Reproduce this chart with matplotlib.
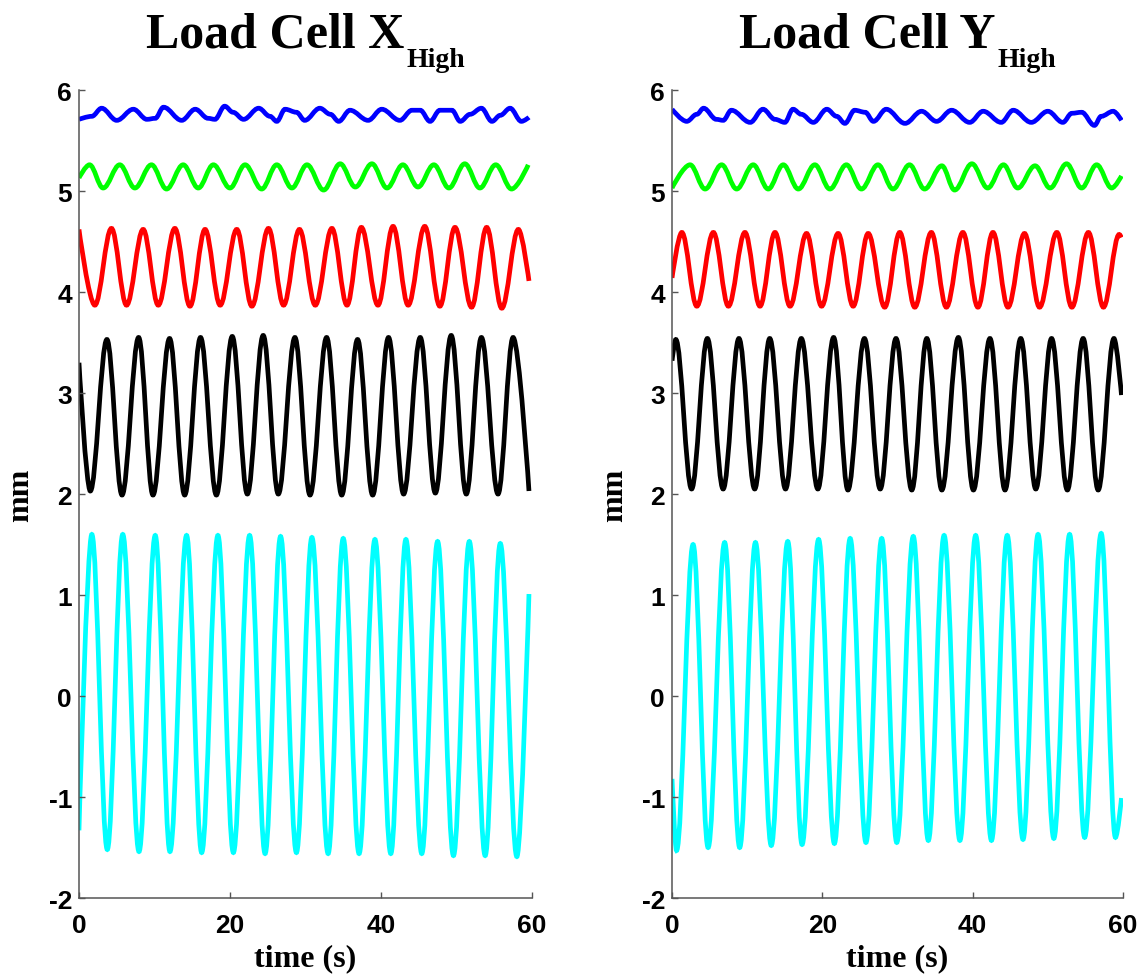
import numpy as np
import matplotlib
matplotlib.use("Agg")
import matplotlib.pyplot as plt
from matplotlib.path import Path
from matplotlib.patches import PathPatch

plt.rcParams["axes.unicode_minus"] = False

# extrema (time s, mm)
# ---- Load Cell X (left) ----
x_blue_t = [0.0, 1.7, 3.0, 5.0, 7.2, 9.0, 10.1, 11.2, 13.6, 15.4, 17.1, 18.0, 19.3, 20.4, 21.8, 23.8, 25.3, 26.2, 27.3, 28.8,
            29.9, 31.9, 33.3, 34.4, 35.9, 38.3, 40.1, 42.5, 44.1, 45.2, 46.5, 47.8, 49.4, 50.5, 51.8, 53.3, 54.7, 55.8, 57.1, 58.6, 59.6]
x_blue_v = [5.71, 5.74, 5.82, 5.70, 5.81, 5.71, 5.72, 5.83, 5.70, 5.81, 5.72, 5.71, 5.84, 5.78, 5.71, 5.82, 5.74, 5.69, 5.81, 5.78,
            5.70, 5.82, 5.76, 5.69, 5.80, 5.70, 5.81, 5.70, 5.80, 5.80, 5.69, 5.80, 5.80, 5.69, 5.76, 5.82, 5.69, 5.75, 5.82, 5.69, 5.73]

x_green_t = [0.0, 1.4, 3.2, 5.4, 7.4, 9.6, 11.6, 13.8, 15.8, 17.8, 20.0, 22.0, 24.2, 26.2, 28.2, 30.2,
             32.4, 34.6, 36.6, 38.8, 40.8, 42.9, 44.9, 47.0, 49.0, 51.1, 53.1, 55.2, 57.3, 59.5]
x_green_v = [5.13, 5.26, 5.03, 5.26, 5.03, 5.26, 5.02, 5.26, 5.03, 5.26, 5.03, 5.26, 5.02, 5.26, 5.03, 5.26,
             5.01, 5.27, 5.04, 5.27, 5.03, 5.26, 5.04, 5.26, 5.03, 5.27, 5.03, 5.26, 5.02, 5.26]

x_red_t = [0.0, 2.1, 4.3, 6.3, 8.5, 10.5, 12.7, 14.7, 16.7, 18.7, 20.9, 22.9, 25.1, 27.1, 29.2,
           31.3, 33.5, 35.5, 37.4, 39.6, 41.6, 43.6, 45.8, 47.8, 49.8, 52.0, 54.0, 56.0, 58.2, 59.6]
x_red_v = [4.62, 3.87, 4.63, 3.87, 4.62, 3.87, 4.63, 3.86, 4.62, 3.87, 4.62, 3.86, 4.63, 3.87, 4.62,
           3.87, 4.63, 3.87, 4.64, 3.87, 4.65, 3.87, 4.65, 3.86, 4.64, 3.85, 4.64, 3.84, 4.62, 4.11]

x_black_t = [0.0, 1.5, 3.7, 5.7, 7.9, 9.8, 12.0, 14.0, 16.1, 18.2, 20.3, 22.3, 24.4, 26.4, 28.6,
             30.6, 32.8, 34.8, 36.9, 38.9, 41.0, 43.0, 45.2, 47.2, 49.3, 51.3, 53.3, 55.5, 57.5, 59.6]
x_black_v = [3.30, 2.03, 3.53, 1.99, 3.55, 1.99, 3.54, 1.99, 3.55, 1.99, 3.56, 2.00, 3.57, 2.00, 3.55,
             1.99, 3.55, 1.99, 3.53, 1.99, 3.55, 2.00, 3.55, 2.01, 3.57, 2.00, 3.55, 2.00, 3.55, 2.03]

x_cyan_t = [0.0, 1.7, 3.75, 5.8, 7.95, 10.1, 12.05, 14.25, 16.25, 18.4, 20.45, 22.6, 24.65, 26.7, 28.8,
            30.85, 33.0, 35.0, 37.1, 39.2, 41.3, 43.3, 45.4, 47.5, 49.6, 51.7, 53.8, 55.8, 58.0, 59.6]
x_cyan_v = [-1.33, 1.60, -1.52, 1.60, -1.54, 1.59, -1.54, 1.59, -1.55, 1.59, -1.55, 1.59, -1.56, 1.58, -1.55,
            1.57, -1.56, 1.56, -1.56, 1.55, -1.56, 1.55, -1.56, 1.53, -1.58, 1.53, -1.58, 1.51, -1.59, 1.01]

# ---- Load Cell Y (right) ----
y_blue_t = [0.0, 1.95, 3.3, 4.2, 5.9, 6.8, 7.9, 10.4, 12.1, 13.7, 15.0, 16.1, 17.2, 18.8, 20.6, 21.9, 23.0, 24.3, 25.7, 26.8,
            28.5, 31.0, 33.2, 35.2, 37.2, 39.6, 41.4, 43.8, 45.4, 47.8, 50.0, 52.0, 53.2, 54.5, 56.2, 57.1, 58.7, 59.8]
y_blue_v = [5.81, 5.69, 5.76, 5.82, 5.71, 5.70, 5.80, 5.68, 5.81, 5.71, 5.68, 5.81, 5.76, 5.68, 5.81, 5.74, 5.67, 5.80, 5.78, 5.69,
            5.81, 5.67, 5.79, 5.69, 5.80, 5.68, 5.79, 5.68, 5.80, 5.68, 5.79, 5.68, 5.77, 5.78, 5.65, 5.74, 5.79, 5.70]

y_green_t = [0.0, 2.4, 4.4, 6.6, 8.6, 10.8, 12.8, 14.8, 16.8, 19.0, 21.0, 23.2, 25.2, 27.4, 29.4,
             31.6, 33.6, 35.9, 37.6, 39.9, 42.0, 44.1, 46.0, 48.3, 50.3, 52.5, 54.5, 56.5, 58.5, 59.8]
y_green_v = [5.03, 5.26, 5.02, 5.26, 5.02, 5.26, 5.02, 5.26, 5.02, 5.26, 5.02, 5.26, 5.02, 5.26, 5.02,
             5.26, 5.02, 5.25, 5.01, 5.27, 5.03, 5.26, 5.03, 5.25, 5.03, 5.27, 5.03, 5.26, 5.03, 5.15]

y_red_t = [0.0, 1.3, 3.3, 5.5, 7.5, 9.7, 11.7, 13.7, 15.7, 17.9, 19.9, 22.1, 24.1, 26.1, 28.3,
           30.3, 32.3, 34.5, 36.5, 38.7, 40.7, 42.7, 44.7, 46.9, 48.9, 51.2, 53.2, 55.4, 57.4, 59.5, 59.8]
y_red_v = [4.14, 4.59, 3.86, 4.59, 3.86, 4.59, 3.86, 4.59, 3.86, 4.58, 3.86, 4.58, 3.86, 4.58, 3.85,
           4.59, 3.85, 4.59, 3.85, 4.59, 3.85, 4.59, 3.85, 4.58, 3.85, 4.59, 3.85, 4.59, 3.85, 4.57, 4.54]

y_black_t = [0.0, 0.5, 2.6, 4.7, 6.8, 8.9, 11.0, 13.0, 15.1, 17.2, 19.4, 21.5, 23.4, 25.6, 27.7,
             29.8, 31.9, 33.9, 35.9, 38.1, 40.1, 42.3, 44.3, 46.4, 48.4, 50.5, 52.6, 54.7, 56.7, 58.8, 59.8]
y_black_v = [3.32, 3.53, 2.05, 3.54, 2.05, 3.54, 2.05, 3.54, 2.05, 3.54, 2.05, 3.55, 2.04, 3.54, 2.05,
             3.54, 2.04, 3.54, 2.04, 3.55, 2.04, 3.54, 2.04, 3.54, 2.05, 3.54, 2.04, 3.54, 2.04, 3.54, 2.98]

y_cyan_t = [0.0, 0.6, 2.8, 4.8, 7.0, 9.0, 11.1, 13.2, 15.4, 17.3, 19.5, 21.6, 23.7, 25.8, 27.9,
            29.9, 32.1, 34.1, 36.2, 38.3, 40.4, 42.5, 44.6, 46.7, 48.7, 50.8, 52.9, 54.9, 57.1, 59.0, 59.8]
y_cyan_v = [-0.82, -1.53, 1.50, -1.50, 1.52, -1.50, 1.52, -1.48, 1.53, -1.47, 1.55, -1.46, 1.56, -1.45, 1.56,
            -1.45, 1.58, -1.43, 1.59, -1.43, 1.59, -1.43, 1.59, -1.42, 1.60, -1.41, 1.60, -1.40, 1.61, -1.40, -1.01]

colors = ["#0000ff", "#00ff00", "#ff0000", "#000000", "#00ffff"]
panels = [
    ("Load Cell X", [(x_blue_t, x_blue_v), (x_green_t, x_green_v), (x_red_t, x_red_v),
                     (x_black_t, x_black_v), (x_cyan_t, x_cyan_v)]),
    ("Load Cell Y", [(y_blue_t, y_blue_v), (y_green_t, y_green_v), (y_red_t, y_red_v),
                     (y_black_t, y_black_v), (y_cyan_t, y_cyan_v)]),
]


def wave_path(t, v, k=0.36):
    # bezier segments between the read extrema, flat tangent at each extremum
    verts = [(t[0], v[0])]
    codes = [Path.MOVETO]
    n = len(t)
    for i in range(n - 1):
        dt = t[i + 1] - t[i]
        c1 = (t[i] + k * dt, v[i]) if i > 0 else (t[i], v[i])
        c2 = (t[i + 1] - k * dt, v[i + 1]) if i + 1 < n - 1 else (t[i + 1], v[i + 1])
        verts += [c1, c2, (t[i + 1], v[i + 1])]
        codes += [Path.CURVE4] * 3
    return Path(verts, codes)


fig = plt.figure(figsize=(11.48, 9.79), dpi=100)
axes = [fig.add_axes([0.0688, 0.0817, 0.3946, 0.8253]),
        fig.add_axes([0.5854, 0.0817, 0.3928, 0.8253])]

serif = "Liberation Serif"
sans = "Liberation Sans"

for ax, (name, series) in zip(axes, panels):
    for (t, v), c in zip(series, colors):
        ax.add_patch(PathPatch(wave_path(t, v), facecolor="none", edgecolor=c, lw=3.4))
    ax.set_xlim(0, 60)
    ax.set_ylim(-2, 6)
    ax.set_xticks([0, 20, 40, 60])
    ax.set_yticks(range(-2, 7))
    for s in ["top", "right"]:
        ax.spines[s].set_visible(False)
    for s in ["left", "bottom"]:
        ax.spines[s].set_color("#555555")
        ax.spines[s].set_linewidth(1.1)
    ax.tick_params(direction="in", length=4, width=1.0, color="#555555")
    ax.tick_params(axis="x", pad=11)
    ax.tick_params(axis="y", pad=5)
    for lab in ax.get_xticklabels() + ax.get_yticklabels():
        lab.set_fontfamily(sans)
        lab.set_fontweight("bold")
        lab.set_fontsize(19)
    ax.set_xlabel("time (s)", fontfamily=serif, fontweight="bold", fontsize=23, labelpad=4)
    ax.set_ylabel("mm", fontfamily=serif, fontweight="bold", fontsize=23)
    ax.yaxis.set_label_coords(-0.096, 0.5)

# titles with a lowered "High" subscript
fig.canvas.draw()
r = fig.canvas.get_renderer()
W, H = fig.get_size_inches() * fig.dpi
for ax, (name, series) in zip(axes, panels):
    t1 = fig.text(0, 0.951, name, fontfamily=serif, fontweight="bold", fontsize=36, va="baseline")
    t2 = fig.text(0, 0.932, "High", fontfamily=serif, fontweight="bold", fontsize=20, va="baseline")
    w1 = t1.get_window_extent(r).width
    w2 = t2.get_window_extent(r).width
    bb = ax.get_position()
    cx = (bb.x0 + bb.x1) / 2 * W
    x0 = cx - (w1 + 2 + w2) / 2
    t1.set_x(x0 / W)
    t2.set_x((x0 + w1 + 2) / W)

fig.savefig("out.png", dpi=100)
